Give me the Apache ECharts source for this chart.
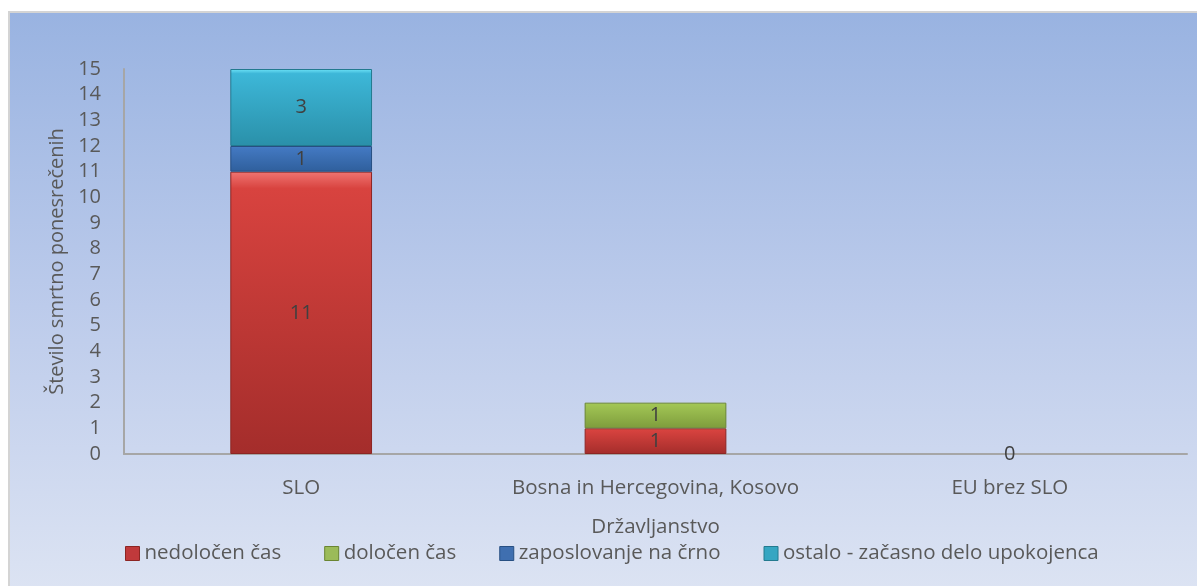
<!DOCTYPE html>
<html>
<head>
<meta charset="utf-8">
<script src="https://cdn.jsdelivr.net/npm/echarts@6/dist/echarts.min.js"></script>
<style>
  html, body { margin: 0; padding: 0; background: #fff; overflow: hidden; }
  #frame {
    position: absolute; left: 8px; top: 11px; width: 1200px; height: 590px;
    border: 2px solid #d4d4d4; box-sizing: border-box;
    background: linear-gradient(to bottom, #99b3e1 0%, #bccbeb 50%, #dde4f3 100%);
  }
  #main { position: absolute; left: 0; top: 0; width: 1197px; height: 586px; }
</style>
</head>
<body>
<div id="frame"></div>
<div id="main"></div>
<script>
// podatki
const categories = ['SLO', 'Bosna in Hercegovina, Kosovo', 'EU brez SLO'];
const nedolocen = [11, 1, 0];
const dolocen = [0, 1, 0];
const naCrno = [1, 0, 0];
const ostalo = [3, 0, 0];
const seriesNames = ['nedoločen čas', 'določen čas', 'zaposlovanje na črno', 'ostalo - začasno delo upokojenca'];
const yTicks = [0, 15, 1]; // min, max, interval

const chart = echarts.init(document.getElementById('main'));

// barve z "bevel" prelivom
function fill(top, mid, bottom) {
  return new echarts.graphic.LinearGradient(0, 0, 0, 1, [
    { offset: 0, color: top },
    { offset: 0.06, color: mid },
    { offset: 1, color: bottom }
  ]);
}
const colors = [
  { c: fill('#f07572', '#d8433f', '#a42d2b'), b: '#8c2523', legend: '#c0393b' },
  { c: fill('#c8e77f', '#a2c655', '#7e9c3c'), b: '#6a8532', legend: '#9bbb59' },
  { c: fill('#7fb4f2', '#4379c2', '#2f5f9c'), b: '#274f82', legend: '#3f6fb0' },
  { c: fill('#6fe4f8', '#3db7d8', '#2a90a9'), b: '#237a8f', legend: '#35a6c2' }
];

const font = 'Open Sans';
const labelFont = { fontFamily: font, fontSize: 20, color: '#404040' };

function makeSeries(name, data, idx, showZero) {
  return {
    name: name,
    type: 'bar',
    stack: 'total',
    barWidth: '40%',
    // ničelni stolpci brez obrobe
    data: data.map(v => v === 0 ? { value: v, itemStyle: { borderWidth: 0 } } : v),
    itemStyle: { color: colors[idx].c, borderColor: colors[idx].b, borderWidth: 1 },
    label: Object.assign({
      show: true,
      position: 'inside',
      formatter: p => (p.value === 0 && !showZero) ? '' : String(p.value)
    }, labelFont)
  };
}

const option = {
  animation: false,
  backgroundColor: 'transparent',
  grid: { left: 124, right: 10, top: 69, bottom: 132, containLabel: false },
  legend: {
    top: 538,
    left: 120,
    itemWidth: 14,
    itemHeight: 14,
    itemGap: 43,
    icon: 'rect',
    textStyle: { fontFamily: font, fontSize: 20.5, color: '#595959' },
    data: seriesNames.map((n, i) => ({ name: n, itemStyle: { color: colors[i].legend, borderColor: colors[i].b, borderWidth: 1 } }))
  },
  xAxis: {
    type: 'category',
    data: categories,
    name: 'Državljanstvo',
    nameLocation: 'middle',
    nameGap: 63,
    nameTextStyle: { fontFamily: font, fontSize: 20.5, color: '#595959' },
    axisLine: { lineStyle: { color: '#a6a6a6', width: 2 } },
    axisTick: { show: false },
    axisLabel: { interval: 0, margin: 24, fontFamily: font, fontSize: 20.5, color: '#595959' }
  },
  yAxis: {
    type: 'value',
    min: yTicks[0],
    max: yTicks[1],
    interval: yTicks[2],
    name: 'Število smrtno ponesrečenih',
    nameLocation: 'middle',
    nameGap: 57,
    nameTextStyle: { fontFamily: font, fontSize: 20, color: '#595959' },
    axisLine: { show: true, lineStyle: { color: '#a6a6a6', width: 2 } },
    axisTick: { show: false },
    splitLine: { show: false },
    axisLabel: { margin: 23, fontFamily: font, fontSize: 20, color: '#595959' }
  },
  series: [
    makeSeries(seriesNames[0], nedolocen, 0, true),
    makeSeries(seriesNames[1], dolocen, 1, false),
    makeSeries(seriesNames[2], naCrno, 2, false),
    makeSeries(seriesNames[3], ostalo, 3, false)
  ]
};

chart.setOption(option);
</script>
</body>
</html>
